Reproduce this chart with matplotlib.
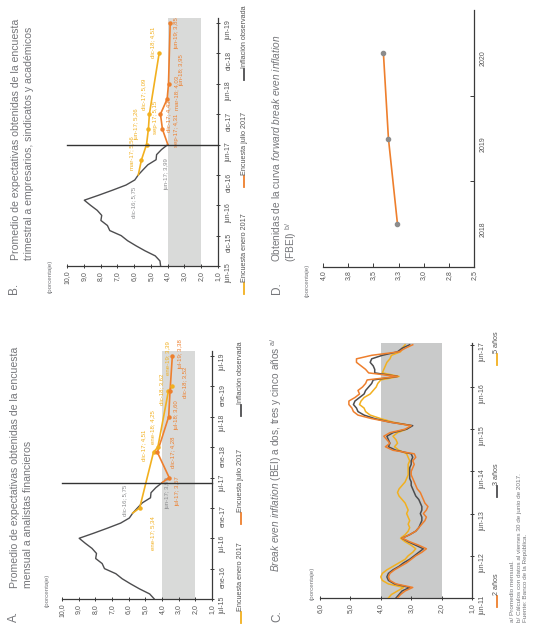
import numpy as np
import matplotlib.pyplot as plt
from matplotlib.lines import Line2D
from matplotlib import font_manager

nombres = {f.name for f in font_manager.fontManager.ttflist}
fuente = 'Liberation Sans Narrow' if 'Liberation Sans Narrow' in nombres else 'Liberation Sans'
plt.rcParams['font.family'] = [fuente, 'DejaVu Sans']
plt.rcParams['mathtext.fontset'] = 'custom'
plt.rcParams['mathtext.rm'] = fuente
plt.rcParams['mathtext.it'] = fuente + ':italic'

MESES = ['ene', 'feb', 'mar', 'abr', 'may', 'jun', 'jul', 'ago', 'sep', 'oct', 'nov', 'dic']


def mes(s):
    m, a = s.split('-')
    return int(a) * 12 + MESES.index(m)


# --- datos ---
# inflacion observada (anual, %)
infl_fechas = ['jun-15', 'jul-15', 'ago-15', 'sep-15', 'oct-15', 'nov-15', 'dic-15',
               'ene-16', 'feb-16', 'mar-16', 'abr-16', 'may-16', 'jun-16', 'jul-16',
               'ago-16', 'sep-16', 'oct-16', 'nov-16', 'dic-16', 'ene-17', 'feb-17',
               'mar-17', 'abr-17', 'may-17', 'jun-17']
infl_valores = [4.42, 4.46, 4.74, 5.35, 5.89, 6.39, 6.77, 7.45, 7.59, 7.98, 7.93, 8.20,
                8.60, 8.97, 8.10, 7.27, 6.48, 5.96, 5.75, 5.47, 5.18, 4.69, 4.66, 4.37, 3.99]

# A. encuesta mensual a analistas
a_ene_fechas = ['dic-16', 'ene-17', 'dic-17', 'ene-18', 'dic-18', 'ene-19']
a_ene_valores = [5.75, 5.34, 4.51, 4.25, 3.62, 3.39]
a_jul_fechas = ['jun-17', 'jul-17', 'dic-17', 'jul-18', 'dic-18', 'jul-19']
a_jul_valores = [3.99, 3.57, 4.28, 3.60, 3.52, 3.38]
a_ticks = ['jul-15', 'ene-16', 'jul-16', 'ene-17', 'jul-17', 'ene-18', 'jul-18', 'ene-19', 'jul-19']

# B. encuesta trimestral
b_ene_fechas = ['dic-16', 'mar-17', 'jun-17', 'sep-17', 'dic-17', 'dic-18']
b_ene_valores = [5.75, 5.56, 5.26, 5.15, 5.09, 4.51]
b_jul_fechas = ['jun-17', 'sep-17', 'dic-17', 'mar-18', 'jun-18', 'jun-19']
b_jul_valores = [3.99, 4.31, 4.43, 4.03, 3.95, 3.85]
b_ticks = ['jun-15', 'dic-15', 'jun-16', 'dic-16', 'jun-17', 'dic-17', 'jun-18', 'dic-18', 'jun-19']

# C. BEI mensual, jun-11 a jun-17
bei_2 = [3.45, 3.35, 3.20, 2.95, 3.50, 3.70, 3.75, 3.70, 3.55, 3.35, 3.15, 3.00,
         2.85, 2.65, 2.50, 2.75, 3.05, 3.30, 3.05, 2.85, 2.75, 2.65, 2.55, 2.50,
         2.60, 2.50, 2.45, 2.55, 2.60, 2.65, 2.70, 2.80, 2.85, 2.90, 2.95, 3.00,
         3.00, 2.95, 2.90, 2.95, 2.85, 2.90, 3.60, 3.85, 3.70, 3.80, 3.90, 3.70,
         3.20, 3.00, 3.70, 4.30, 4.75, 4.90, 4.95, 5.05, 5.05, 4.85, 4.70, 4.75,
         4.60, 4.50, 4.45, 3.45, 4.40, 4.50, 4.65, 4.80, 4.80, 4.30, 3.40, 3.20, 2.95]
bei_3 = [3.50, 3.40, 3.30, 3.05, 3.55, 3.75, 3.80, 3.75, 3.60, 3.40, 3.25, 3.05,
         2.90, 2.75, 2.60, 2.85, 3.10, 3.30, 3.05, 2.85, 2.75, 2.70, 2.65, 2.65,
         2.70, 2.65, 2.65, 2.70, 2.75, 2.85, 2.90, 2.95, 3.00, 3.00, 3.05, 3.05,
         3.05, 3.05, 3.00, 3.00, 2.95, 3.00, 3.50, 3.75, 3.70, 3.75, 3.80, 3.60,
         3.15, 2.95, 3.70, 4.20, 4.55, 4.75, 4.80, 4.90, 4.85, 4.70, 4.55, 4.50,
         4.40, 4.30, 4.25, 3.45, 4.20, 4.20, 4.25, 4.35, 4.30, 3.95, 3.45, 3.30, 3.05]
bei_5 = [3.75, 3.65, 3.45, 3.25, 3.75, 3.95, 4.00, 3.95, 3.80, 3.60, 3.40, 3.20,
         3.10, 2.95, 2.85, 3.00, 3.20, 3.35, 3.20, 3.10, 3.05, 3.10, 3.05, 3.10,
         3.15, 3.10, 3.15, 3.20, 3.30, 3.40, 3.45, 3.40, 3.30, 3.20, 3.15, 3.10,
         3.10, 3.10, 3.10, 3.05, 3.10, 3.15, 3.40, 3.55, 3.45, 3.50, 3.60, 3.45,
         3.15, 3.00, 3.60, 4.00, 4.35, 4.50, 4.55, 4.70, 4.65, 4.55, 4.35, 4.25,
         4.15, 4.10, 4.00, 3.40, 3.95, 3.90, 3.85, 3.80, 3.70, 3.65, 3.35, 3.30, 3.20]
c_ticks = ['jun-11', 'jun-12', 'jun-13', 'jun-14', 'jun-15', 'jun-16', 'jun-17']

# D. FBEI
fbei_anios = ['2018', '2019', '2020']
fbei_valores = [3.26, 3.35, 3.40]
d_ticks = [4.0, 3.75, 3.5, 3.25, 3.0, 2.75, 2.5]
d_etiquetas = ['4,0', '3,8', '3,5', '3,3', '3,0', '2,8', '2,5']

# --- colores ---
AMARILLO = '#F2B01F'
NARANJA = '#EE7F2D'
GRIS = '#4D4D4F'
TEXTO = '#75767A'
EJE = '#3A3A3A'
TIT = 7.6

W, H = 533, 624
fig = plt.figure(figsize=(W / 100, H / 100), dpi=100)


def caja(x0, y0, x1, y1):
    return [x0 / W, 1 - y1 / H, (x1 - x0) / W, (y1 - y0) / H]


def ftxt(x, y, s, **kw):
    kw.setdefault('color', TEXTO)
    fig.text(x / W, 1 - y / H, s, rotation=90, **kw)


def leyenda(x, y, texto, color, fs=5.2):
    fig.add_artist(Line2D([x / W, x / W], [1 - y / H, 1 - (y - 11) / H], color=color, lw=1.3))
    ftxt(x, y - 12, texto, ha='center', va='bottom', fontsize=fs, color='#555555')


def estilo(ax, xticks, xlabels):
    for lado in ['top', 'left']:
        ax.spines[lado].set_visible(False)
    for lado in ['bottom', 'right']:
        ax.spines[lado].set_color(EJE)
        ax.spines[lado].set_linewidth(0.9)
    ax.yaxis.tick_right()
    ax.set_xticks(xticks, xlabels)
    ax.tick_params(axis='both', labelsize=5, colors=EJE, labelcolor='#555555',
                   length=3, width=0.7, direction='inout', pad=2)
    ax.tick_params(axis='x', labelrotation=90)
    ax.tick_params(axis='y', labelrotation=90, pad=4)
    ax.set_facecolor('none')


def etiqueta(ax, fecha, valor, dx, dy, color):
    txt = f"{fecha}; {valor:.2f}".replace('.', ',')
    ax.annotate(txt, xy=(valor, mes(fecha)), xytext=(dx, -dy), textcoords='offset pixels',
                rotation=90, ha='center', va='center', fontsize=4.3, color=color,
                annotation_clip=False)


def panel_encuesta(ax, ene_f, ene_v, jul_f, jul_v, ticks, off_ene, off_jul, off_obs, corte):
    ax.axvspan(2, 4, color='#D9DAD9', lw=0, zorder=0)
    ax.plot(infl_valores, [mes(f) for f in infl_fechas], color=GRIS, lw=1.0, zorder=3)
    ax.plot(ene_v, [mes(f) for f in ene_f], color=AMARILLO, lw=1.2, zorder=4)
    ax.plot(ene_v[1:], [mes(f) for f in ene_f[1:]], 'o', color=AMARILLO, ms=2.2, zorder=5)
    ax.plot(jul_v, [mes(f) for f in jul_f], color=NARANJA, lw=1.2, zorder=4)
    ax.plot(jul_v[1:], [mes(f) for f in jul_f[1:]], 'o', color=NARANJA, ms=2.2, zorder=5)
    ax.axhline(mes(corte), color='#333333', lw=1.0, zorder=6, clip_on=False)
    for f, v, (dx, dy) in zip(ene_f[1:], ene_v[1:], off_ene):
        etiqueta(ax, f, v, dx, dy, AMARILLO)
    for f, v, (dx, dy) in zip(jul_f[1:], jul_v[1:], off_jul):
        etiqueta(ax, f, v, dx, dy, NARANJA)
    for (f, dx, dy) in off_obs:
        etiqueta(ax, f, infl_valores[infl_fechas.index(f)], dx, dy, '#8A8B8D')
    vals = np.arange(10, 0, -1.0)
    estilo(ax, vals, [f"{v:.1f}".replace('.', ',') for v in vals])
    ax.set_yticks([mes(t) for t in ticks], ticks)
    ax.set_xlim(10, 1)


# A
axA = fig.add_axes(caja(62, 351, 212, 599))
panel_encuesta(axA, a_ene_fechas, a_ene_valores, a_jul_fechas, a_jul_valores, a_ticks,
               [(13, 25), (-10, -7), (-5, -20), (-7, -2), (-4, -28)],
               [(9, 14), (15, 0), (8, -2), (15, -9), (8, -2)],
               [('dic-16', -8, -13), ('jun-17', 6, 10)], 'jun-17')
axA.set_ylim(mes('jul-15'), mes('jul-19') + 1)

# B
axB = fig.add_axes(caja(67, 18, 218, 266))
panel_encuesta(axB, b_ene_fechas, b_ene_valores, b_jul_fechas, b_jul_valores, b_ticks,
               [(-10, -7), (-10, -20), (7, -12), (-6, -20), (-6, -11)],
               [(14, 1), (8, 2), (10, -6), (13, -14), (6, 10)],
               [('dic-16', -5, 28), ('jun-17', -1, 30)], 'jun-17')
axB.set_ylim(mes('jun-15'), mes('jun-19') + 1)

# C
axC = fig.add_axes(caja(320, 343, 472, 598))
t_bei = np.arange(mes('jun-11'), mes('jun-11') + len(bei_2))
axC.axvspan(2, 4, color='#C9CACA', lw=0, zorder=0)
axC.plot(bei_5, t_bei, color=AMARILLO, lw=1.1, zorder=3)
axC.plot(bei_3, t_bei, color=GRIS, lw=1.1, zorder=4)
axC.plot(bei_2, t_bei, color=NARANJA, lw=1.1, zorder=5)
vc = np.arange(6, 0, -1.0)
estilo(axC, vc, [f"{v:.1f}".replace('.', ',') for v in vc])
axC.set_yticks([mes(t) for t in c_ticks], c_ticks)
axC.set_xlim(6, 1)
axC.set_ylim(mes('jun-11'), mes('jun-17') + 0.5)

# D
axD = fig.add_axes(caja(323, 10, 474, 267))
pos = np.arange(len(fbei_anios))
axD.plot(fbei_valores, pos, color=NARANJA, lw=1.2, zorder=3)
axD.plot(fbei_valores, pos, 'o', color='#8C8C8C', ms=3, zorder=4)
estilo(axD, d_ticks, d_etiquetas)
axD.set_yticks(pos, fbei_anios)
axD.tick_params(axis='y', length=0)
axD.set_yticks(pos[:-1] + 0.5, minor=True)
axD.tick_params(axis='y', which='minor', length=3, direction='in', colors=EJE, width=0.7)
axD.tick_params(axis='x', direction='in')
axD.set_xlim(4.0, 2.5)
axD.set_ylim(-0.5, 2.5)

# --- textos ---
ftxt(14, 622, 'A.', ha='center', va='bottom', fontsize=8.5)
ftxt(15, 588, 'Promedio de expectativas obtenidas de la encuesta', ha='center', va='bottom', fontsize=TIT)
ftxt(28, 588, 'mensual a analistas financieros', ha='center', va='bottom', fontsize=TIT)
ftxt(47, 607, '(porcentaje)', ha='center', va='bottom', fontsize=4.5)

ftxt(14, 294, 'B.', ha='center', va='bottom', fontsize=8.5)
ftxt(16, 260, 'Promedio de expectativas obtenidas de la encuesta', ha='center', va='bottom', fontsize=TIT)
ftxt(29, 260, 'trimestral a empresarios, sindicatos y académicos', ha='center', va='bottom', fontsize=TIT)
ftxt(50, 293, '(porcentaje)', ha='center', va='bottom', fontsize=4.5)

ftxt(277, 622, 'C.', ha='center', va='bottom', fontsize=8.5)
ftxt(276, 572, r'$\mathit{Break\ even\ inflation}$ (BEI) a dos, tres y cinco años $^{\mathrm{a/}}$',
     ha='center', va='bottom', fontsize=7.3)
ftxt(312, 600, '(porcentaje)', ha='center', va='bottom', fontsize=4.5)

ftxt(277, 294, 'D.', ha='center', va='bottom', fontsize=8.5)
ftxt(276, 262, r'Obtenidas de la curva $\mathit{forward\ break\ even\ inflation}$',
     ha='center', va='bottom', fontsize=7.3)
ftxt(291, 262, r'(FBEI) $^{\mathrm{b/}}$', ha='center', va='bottom', fontsize=7.3)
ftxt(307, 297, '(porcentaje)', ha='center', va='bottom', fontsize=4.5)

# leyendas
leyenda(241, 623, 'Encuesta enero 2017', AMARILLO)
leyenda(241, 524, 'Encuesta julio 2017', NARANJA)
leyenda(241, 416, 'Inflación observada', GRIS)
leyenda(244, 294, 'Encuesta enero 2017', AMARILLO)
leyenda(244, 187, 'Encuesta julio 2017', NARANJA)
leyenda(244, 80, 'Inflación observada', GRIS)
leyenda(497, 607, '2 años', NARANJA)
leyenda(497, 497, '3 años', GRIS)
leyenda(497, 365, '5 años', AMARILLO)

# notas
ftxt(513, 622, 'a/ Promedio mensual.', ha='center', va='bottom', fontsize=4.6)
ftxt(519, 622, 'b/ Cálculos con datos al viernes 30 de junio de 2017.', ha='center', va='bottom', fontsize=4.6)
ftxt(525, 622, 'Fuente: Banco de la República.', ha='center', va='bottom', fontsize=4.6)

fig.savefig('out.png', dpi=100)
